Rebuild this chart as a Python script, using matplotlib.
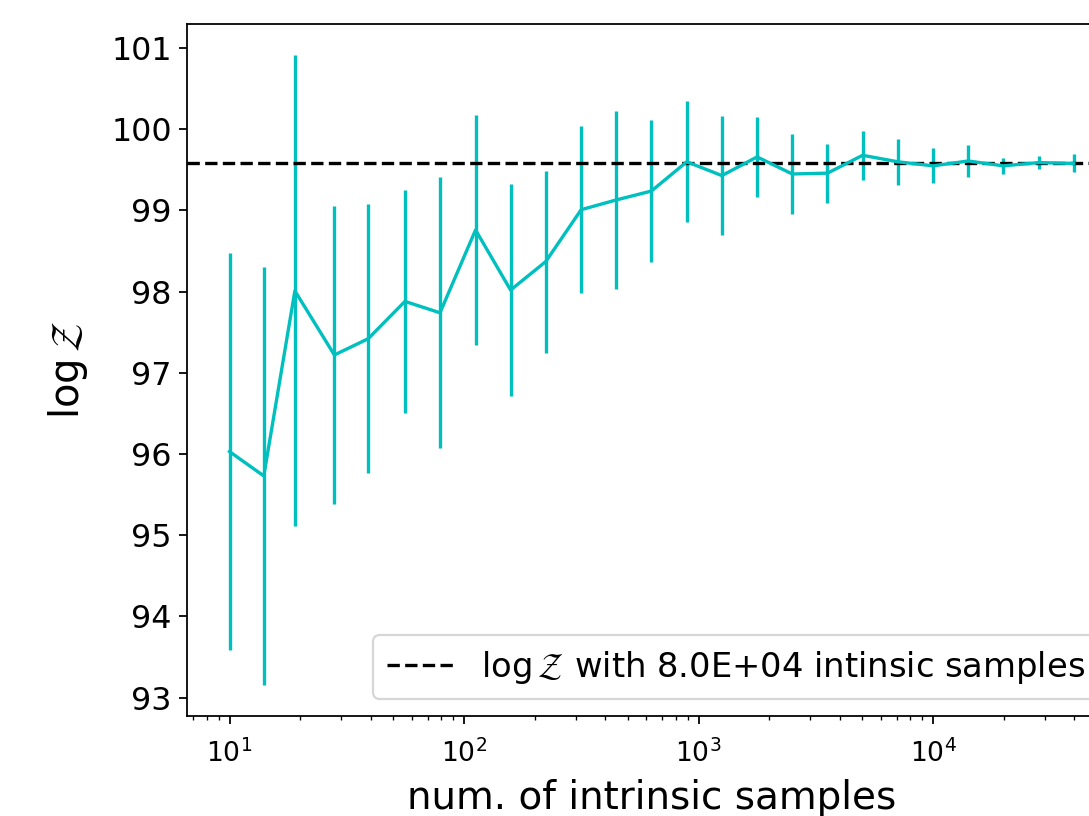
import matplotlib
matplotlib.use("Agg")
import matplotlib.pyplot as plt

# Data
n_samples = [10, 14, 19, 28, 39, 56, 79, 112, 158, 223, 316, 446, 630, 891,
             1258, 1778, 2511, 3548, 5011, 7079, 10000, 14125, 19952, 28183, 39810]
logz_mean = [96.03, 95.73, 98.01, 97.22, 97.42, 97.88, 97.74, 98.76, 98.02,
             98.37, 99.01, 99.13, 99.24, 99.60, 99.43, 99.66, 99.45, 99.46,
             99.68, 99.60, 99.55, 99.61, 99.55, 99.59, 99.58]
logz_err = [2.45, 2.57, 2.90, 1.84, 1.66, 1.37, 1.67, 1.42, 1.31,
            1.12, 1.03, 1.10, 0.88, 0.745, 0.73, 0.49, 0.49, 0.365,
            0.30, 0.28, 0.215, 0.195, 0.095, 0.08, 0.11]
ref_logz = 99.58
ref_label = r'$\log\mathcal{Z}$ with 8.0E+04 intinsic samples'

DPI = 160
fig = plt.figure(figsize=(1089 / DPI, 816 / DPI), dpi=DPI)
ax = fig.add_axes([187.3 / 1089, 1 - 716 / 816, 928.6 / 1089, (716 - 24) / 816])

ax.errorbar(n_samples, logz_mean, yerr=logz_err, color='c')
ax.axhline(ref_logz, color='k', ls='--', label=ref_label)
ax.set_xscale('log')

ax.set_xlabel('num. of intrinsic samples', fontsize=17.5, labelpad=5)
ax.set_ylabel(r'$\log\mathcal{Z}$', fontsize=18, labelpad=9.5)
ax.tick_params(axis='y', labelsize=14.3)
ax.tick_params(axis='x', which='major', labelsize=12, pad=7)
ax.legend(loc='lower right', fontsize=15.2)

fig.savefig('out.png', dpi=DPI)
